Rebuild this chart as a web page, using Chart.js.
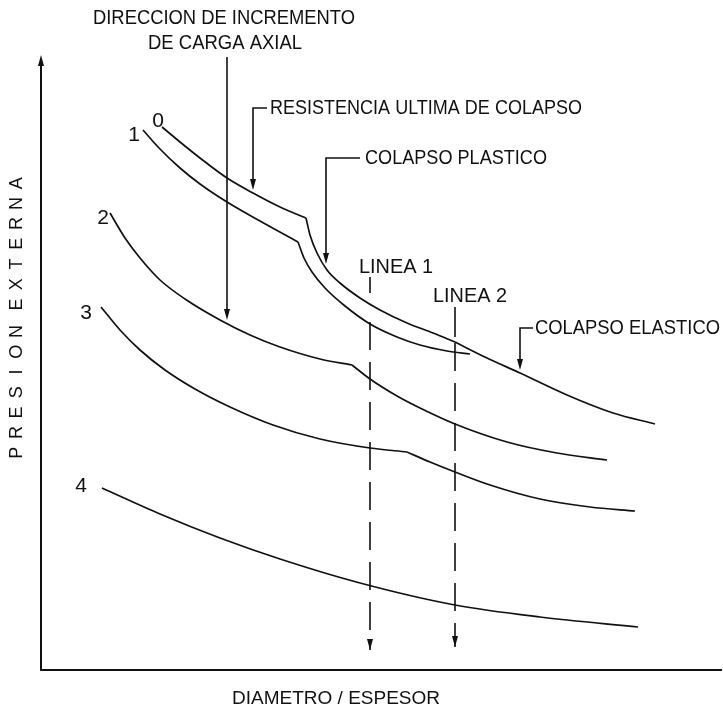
<!DOCTYPE html>
<html>
<head>
<meta charset="utf-8">
<title>Presión externa vs diámetro / espesor</title>
<script src="https://cdn.jsdelivr.net/npm/chart.js@4.4.1/dist/chart.umd.min.js"></script>
<style>
  html, body { margin: 0; padding: 0; background: #ffffff; }
  canvas { display: block; }
</style>
</head>
<body>
<canvas id="c" width="723" height="713"></canvas>
<script>
// Collapse curves: x = diámetro / espesor, y = presión externa (arbitrary units).
// Curve 0 (no axial load): ultimate-strength branch, plastic branch, elastic branch.
const curve0Ultimate = [[12.1,54.3],[13.9,52.8],[15.9,51.2],[18.6,49.2],[21.2,47.7],[23.9,46.3],[26.5,45.2]];
const curve0Plastic  = [[26.5,45.2],[26.9,43.5],[27.6,41.7],[28.6,40.0],[29.9,38.7],[31.9,37.2],[33.9,36.0],[36.6,34.7],[39.2,33.7],[41.4,32.8]];
const curve0Elastic  = [[41.4,32.8],[44.6,31.2],[47.9,29.7],[52.6,27.5],[57.2,25.7],[61.4,24.6]];
// Curves 1-4: increasing axial load.
const curve1a = [[10.2,54.0],[11.9,52.1],[13.9,50.2],[15.9,48.6],[18.6,46.8],[21.9,44.9],[25.7,42.8]];
const curve1b = [[25.7,42.8],[26.3,41.2],[27.1,39.8],[28.4,38.2],[30.4,36.4],[32.9,34.6],[35.6,33.3],[37.9,32.5],[40.6,31.9],[42.9,31.6]];
const curve2a = [[6.9,45.7],[8.4,43.2],[9.9,41.2],[11.9,39.0],[14.4,37.1],[17.9,35.0],[20.9,33.5],[23.9,32.3],[27.9,31.1],[31.1,30.5]];
const curve2b = [[31.1,30.5],[32.9,29.1],[35.6,27.4],[37.9,26.2],[41.4,24.6],[46.6,22.8],[51.6,21.7],[56.6,21.0]];
const curve3a = [[6.0,36.3],[7.9,34.0],[9.9,32.0],[12.4,30.0],[15.4,28.1],[18.9,26.3],[23.2,24.5],[27.9,23.1],[32.9,22.2],[36.6,21.8]];
const curve3b = [[36.6,21.8],[38.9,20.8],[41.4,19.8],[44.9,18.5],[49.9,17.1],[54.9,16.3],[59.4,15.9]];
const curve4  = [[6.1,18.2],[11.9,15.6],[17.9,13.2],[23.9,11.1],[31.9,8.7],[41.4,6.5],[49.9,5.3],[59.7,4.3]];
// Curve numbers and where they sit.
const curveNames = ['0','1','2','3','4'];
const curveNamePos = [[11.7,54.9],[9.3,53.5],[6.2,45.2],[4.5,35.7],[4.0,18.4]];
// Reference lines (x = D/t) with their labels.
const lineNames = ['LINEA 1','LINEA 2'];
const lineX = [32.9, 41.4];
const lineTick = [[39.3,37.7],[36.3,33.3]];   // short solid mark under the label
const lineDash = [[34.8,2.0],[32.7,2.3]];     // dashed drop to the axis
// Axis titles and callouts.
const xTitle = 'DIAMETRO / ESPESOR';
const yTitle = 'PRESION EXTERNA';
const titleAxial = ['DIRECCION DE INCREMENTO', 'DE CARGA AXIAL'];
const calloutTexts = ['RESISTENCIA ULTIMA DE COLAPSO', 'COLAPSO PLASTICO', 'COLAPSO ELASTICO'];

const INK = '#111111';
const toPts = a => a.map(p => ({x: p[0], y: p[1]}));

function curveSet(arr) {
  return { data: toPts(arr), borderColor: INK, borderWidth: 1.7, pointRadius: 0,
           cubicInterpolationMode: 'monotone', fill: false };
}
function straightSet(pts, dash) {
  return { data: pts, borderColor: INK, borderWidth: 1.6, pointRadius: 0,
           tension: 0, fill: false, borderDash: dash || [], borderCapStyle: 'butt' };
}

const datasets = [
  curve0Ultimate, curve0Plastic, curve0Elastic,
  curve1a, curve1b, curve2a, curve2b, curve3a, curve3b, curve4
].map(curveSet);

lineX.forEach((x, i) => {
  datasets.push(straightSet([{x, y: lineTick[i][0]}, {x, y: lineTick[i][1]}]));
  datasets.push(straightSet([{x, y: lineDash[i][0]}, {x, y: lineDash[i][1]}], [28, 12]));
});

// Draws text fitted to a given width (condensed drafting lettering).
function fitText(ctx, text, px, py, size, width, align) {
  ctx.save();
  ctx.font = size + 'px "Liberation Sans", Arial, sans-serif';
  ctx.fillStyle = INK;
  ctx.textBaseline = 'middle';
  const w = ctx.measureText(text).width;
  const sx = width ? width / w : 1;
  let left = px;
  if (align === 'center') left = px - (w * sx) / 2;
  else if (align === 'right') left = px - w * sx;
  ctx.translate(left, py);
  ctx.scale(sx, 1);
  ctx.textAlign = 'left';
  ctx.fillText(text, 0, 0);
  ctx.restore();
}

function arrowHead(ctx, x, y, dir) {
  // dir: 'down' or 'up'; (x, y) is the tip
  const L = 11, H = 3;
  const s = dir === 'down' ? -1 : 1;
  ctx.beginPath();
  ctx.moveTo(x, y);
  ctx.lineTo(x - H, y + s * L);
  ctx.lineTo(x + H, y + s * L);
  ctx.closePath();
  ctx.fillStyle = INK;
  ctx.fill();
}

const drawing = {
  id: 'drawing',
  afterDatasetsDraw(chart) {
    const ctx = chart.ctx;
    const xs = chart.scales.x, ys = chart.scales.y;
    const X = v => xs.getPixelForValue(v);
    const Y = v => ys.getPixelForValue(v);
    const a = chart.chartArea;

    ctx.save();
    ctx.strokeStyle = INK;
    ctx.lineCap = 'butt';

    // axes
    ctx.lineWidth = 2;
    ctx.beginPath();
    ctx.moveTo(a.left, a.top + 8);
    ctx.lineTo(a.left, a.bottom);
    ctx.lineTo(a.right, a.bottom);
    ctx.stroke();
    arrowHead(ctx, a.left, a.top, 'up');

    // axial-load direction arrow
    ctx.lineWidth = 1.6;
    ctx.beginPath();
    ctx.moveTo(X(18.6), Y(61.3));
    ctx.lineTo(X(18.6), Y(35.0) - 9);
    ctx.stroke();
    arrowHead(ctx, X(18.6), Y(35.0), 'down');
    fitText(ctx, titleAxial[0], X(18.3), Y(65.2), 20, 262, 'center');
    fitText(ctx, titleAxial[1], X(18.4), Y(62.7), 20, 154, 'center');

    // callouts: corner, end of horizontal leader, arrow tip, text
    const callouts = [
      {cx: 21.2, cy: 56.2, hx: 22.6, ty: 48.0, tx: 22.9, w: 312},
      {cx: 28.5, cy: 51.2, hx: 31.9, ty: 40.6, tx: 32.4, w: 182},
      {cx: 47.9, cy: 34.2, hx: 49.2, ty: 30.0, tx: 49.4, w: 185}
    ];
    callouts.forEach((c, i) => {
      ctx.lineWidth = 1.6;
      ctx.beginPath();
      ctx.moveTo(X(c.hx), Y(c.cy));
      ctx.lineTo(X(c.cx), Y(c.cy));
      ctx.lineTo(X(c.cx), Y(c.ty) - 9);
      ctx.stroke();
      arrowHead(ctx, X(c.cx), Y(c.ty), 'down');
      fitText(ctx, calloutTexts[i], X(c.tx), Y(c.cy), 20, c.w, 'left');
    });

    // reference line arrowheads and labels
    const lineLabelPos = [[35.5, 40.3], [42.9, 37.4]];
    lineX.forEach((x, i) => {
      arrowHead(ctx, X(x), Y(lineDash[i][1]), 'down');
      fitText(ctx, lineNames[i], X(lineLabelPos[i][0]), Y(lineLabelPos[i][1]), 20, 74, 'center');
    });

    // curve numbers
    curveNames.forEach((n, i) => {
      fitText(ctx, n, X(curveNamePos[i][0]), Y(curveNamePos[i][1]), 21, null, 'center');
    });

    // x-axis title
    fitText(ctx, xTitle, X(29.5), Y(-2.9), 18, 208, 'center');

    // y-axis title, spaced capitals reading upward
    ctx.save();
    ctx.translate(a.left - 24, Y(35.2));
    ctx.rotate(-Math.PI / 2);
    ctx.font = '18px "Liberation Sans", Arial, sans-serif';
    ctx.fillStyle = INK;
    ctx.textAlign = 'center';
    ctx.textBaseline = 'middle';
    const step = 20.2, gap = 27.2;
    const chars = yTitle.split('');
    let total = 0;
    for (let i = 1; i < chars.length; i++) total += (chars[i] === ' ' || chars[i - 1] === ' ') ? gap / 2 : step;
    let pos = -total / 2;
    chars.forEach((ch, i) => {
      if (i > 0) pos += (ch === ' ' || chars[i - 1] === ' ') ? gap / 2 : step;
      if (ch !== ' ') ctx.fillText(ch, pos, 0);
    });
    ctx.restore();

    ctx.restore();
  }
};

new Chart(document.getElementById('c'), {
  type: 'line',
  data: { datasets },
  options: {
    responsive: false,
    animation: false,
    events: [],
    layout: { padding: { left: 41, right: 1, top: 55, bottom: 43 } },
    plugins: { legend: { display: false }, tooltip: { enabled: false } },
    scales: {
      x: { type: 'linear', min: 0, max: 68.1, display: false },
      y: { type: 'linear', min: 0, max: 61.5, display: false }
    }
  },
  plugins: [drawing]
});
</script>
</body>
</html>
